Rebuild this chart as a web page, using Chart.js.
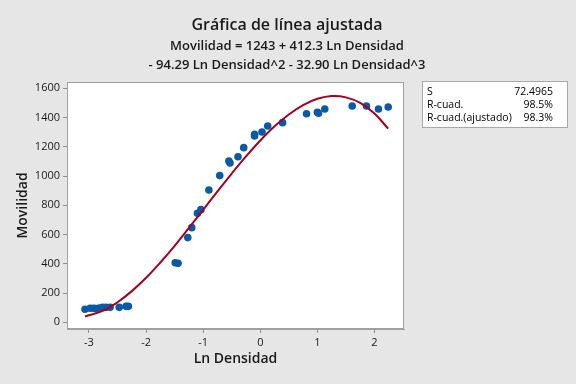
<!DOCTYPE html>
<html>
<head>
<meta charset="utf-8">
<script src="https://cdn.jsdelivr.net/npm/chart.js@4"></script>
<style>
html,body{margin:0;padding:0;background:#e6e6e6;}
#wrap{width:576px;height:384px;position:relative;}
</style>
</head>
<body>
<div id="wrap"><canvas id="c" width="576" height="384"></canvas></div>
<script>
// Observed data
const lnDensidad = [-3.07,-2.98,-2.92,-2.88,-2.82,-2.76,-2.70,-2.63,-2.47,-2.35,-2.31,
  -1.49,-1.44,-1.27,-1.20,-1.10,-1.04,-0.90,-0.71,-0.55,-0.53,-0.39,-0.29,-0.10,-0.10,
  0.03,0.13,0.39,0.81,1.00,1.02,1.13,1.61,1.86,2.07,2.24];
const movilidad = [89,96,96,93,98,102,102,102,102,109,109,
  407,403,579,647,745,770,905,1003,1103,1089,1132,1194,1285,1274,
  1301,1342,1365,1426,1436,1429,1458,1479,1479,1458,1472];
// Fitted line
const fitX = [-3.07,-2.75,-2.5,-2.25,-2,-1.75,-1.5,-1.25,-1,-0.75,-0.5,-0.25,0,0.25,0.5,0.75,1,1.25,1.5,1.75,2,2.24];
const fitY = [40,80,137,213,304,409,523,645,769,895,1017,1134,1243,1340,1421,1485,1528,1547,1538,1500,1427,1324];
const xTicks = [-3,-2,-1,0,1,2];
const yTicks = [0,200,400,600,800,1000,1200,1400,1600];
const titleText = 'Gráfica de línea ajustada';
const subtitleLines = ['Movilidad = 1243 + 412.3 Ln Densidad','- 94.29 Ln Densidad^2 - 32.90 Ln Densidad^3'];
const statLabels = ['S','R-cuad.','R-cuad.(ajustado)'];
const statValues = ['72.4965','98.5%','98.3%'];

const FONT = "'Open Sans', 'Noto Sans', sans-serif";
const points = lnDensidad.map((x,i)=>({x:x,y:movilidad[i]}));
const fit = fitX.map((x,i)=>({x:x,y:fitY[i]}));

const frame = {
  id:'frame',
  beforeDraw(chart){
    const {ctx, chartArea:a} = chart;
    ctx.save();
    ctx.fillStyle='#e6e6e6';
    ctx.fillRect(0,0,chart.width,chart.height);
    ctx.fillStyle='#ffffff';
    ctx.fillRect(a.left,a.top,a.right-a.left,a.bottom-a.top);
    ctx.restore();
  },
  afterDraw(chart){
    const {ctx, chartArea:a} = chart;
    ctx.save();
    ctx.strokeStyle='#a0a0a0';
    ctx.lineWidth=1;
    ctx.strokeRect(Math.round(a.left)+0.5,Math.round(a.top)+0.5,Math.round(a.right-a.left)-1,Math.round(a.bottom-a.top)-1);
    // titles
    ctx.fillStyle='#1a1a1a';
    ctx.textAlign='center';
    ctx.textBaseline='middle';
    ctx.font="600 16px "+FONT;
    ctx.fillText(titleText,287,25);
    ctx.font="600 13px "+FONT;
    ctx.fillText(subtitleLines[0],287,46);
    ctx.fillText(subtitleLines[1],287,65);
    // stats box
    const bx=422.5, by=81.5, bw=145, bh=46;
    ctx.fillStyle='#ffffff';
    ctx.fillRect(bx,by,bw,bh);
    ctx.strokeStyle='#a8a8a8';
    ctx.strokeRect(bx,by,bw,bh);
    ctx.fillStyle='#000000';
    ctx.font="10.5px "+FONT;
    const rows=[92,105,118.5];
    statLabels.forEach((l,i)=>{
      ctx.textAlign='left';
      ctx.fillText(l,427,rows[i]);
      ctx.textAlign='right';
      ctx.fillText(statValues[i],553,rows[i]);
    });
    ctx.restore();
  }
};

new Chart(document.getElementById('c'),{
  type:'scatter',
  data:{datasets:[
    {type:'line',data:fit,borderColor:'#a50021',borderWidth:2,pointRadius:0,tension:0.4,fill:false},
    {data:points,backgroundColor:'#0a5aa6',borderColor:'#0a5aa6',pointRadius:3.8,borderWidth:0}
  ]},
  options:{
    responsive:false,animation:false,
    layout:{padding:{left:0,right:172,top:82,bottom:0}},
    plugins:{legend:{display:false},tooltip:{enabled:false},title:{display:false},subtitle:{display:false}},
    scales:{
      x:{type:'linear',min:-3.385,max:2.517,
        afterBuildTicks(s){s.ticks=xTicks.map(v=>({value:v}));},
        afterFit(s){s.height=55;},
        grid:{display:true,drawOnChartArea:false,drawTicks:true,tickLength:4,color:'#909090'},
        border:{display:true,color:'#a0a0a0'},
        ticks:{color:'#1a1a1a',font:{family:FONT,size:11},padding:3,maxRotation:0,callback:v=>String(v)},
        title:{display:true,text:'Ln Densidad',color:'#1a1a1a',font:{family:FONT,size:14,weight:'600'},padding:{top:2,bottom:17}}
      },
      y:{type:'linear',min:-46,max:1643,
        afterBuildTicks(s){s.ticks=yTicks.map(v=>({value:v}));},
        afterFit(s){s.width=67;},
        grid:{display:true,drawOnChartArea:false,drawTicks:true,tickLength:4,color:'#909090'},
        border:{display:true,color:'#a0a0a0'},
        ticks:{color:'#1a1a1a',font:{family:FONT,size:11},padding:3,callback:v=>String(v)},
        title:{display:true,text:'Movilidad',color:'#1a1a1a',font:{family:FONT,size:14,weight:'600'},padding:{top:15,bottom:0}}
      }
    }
  },
  plugins:[frame]
});
</script>
</body>
</html>
